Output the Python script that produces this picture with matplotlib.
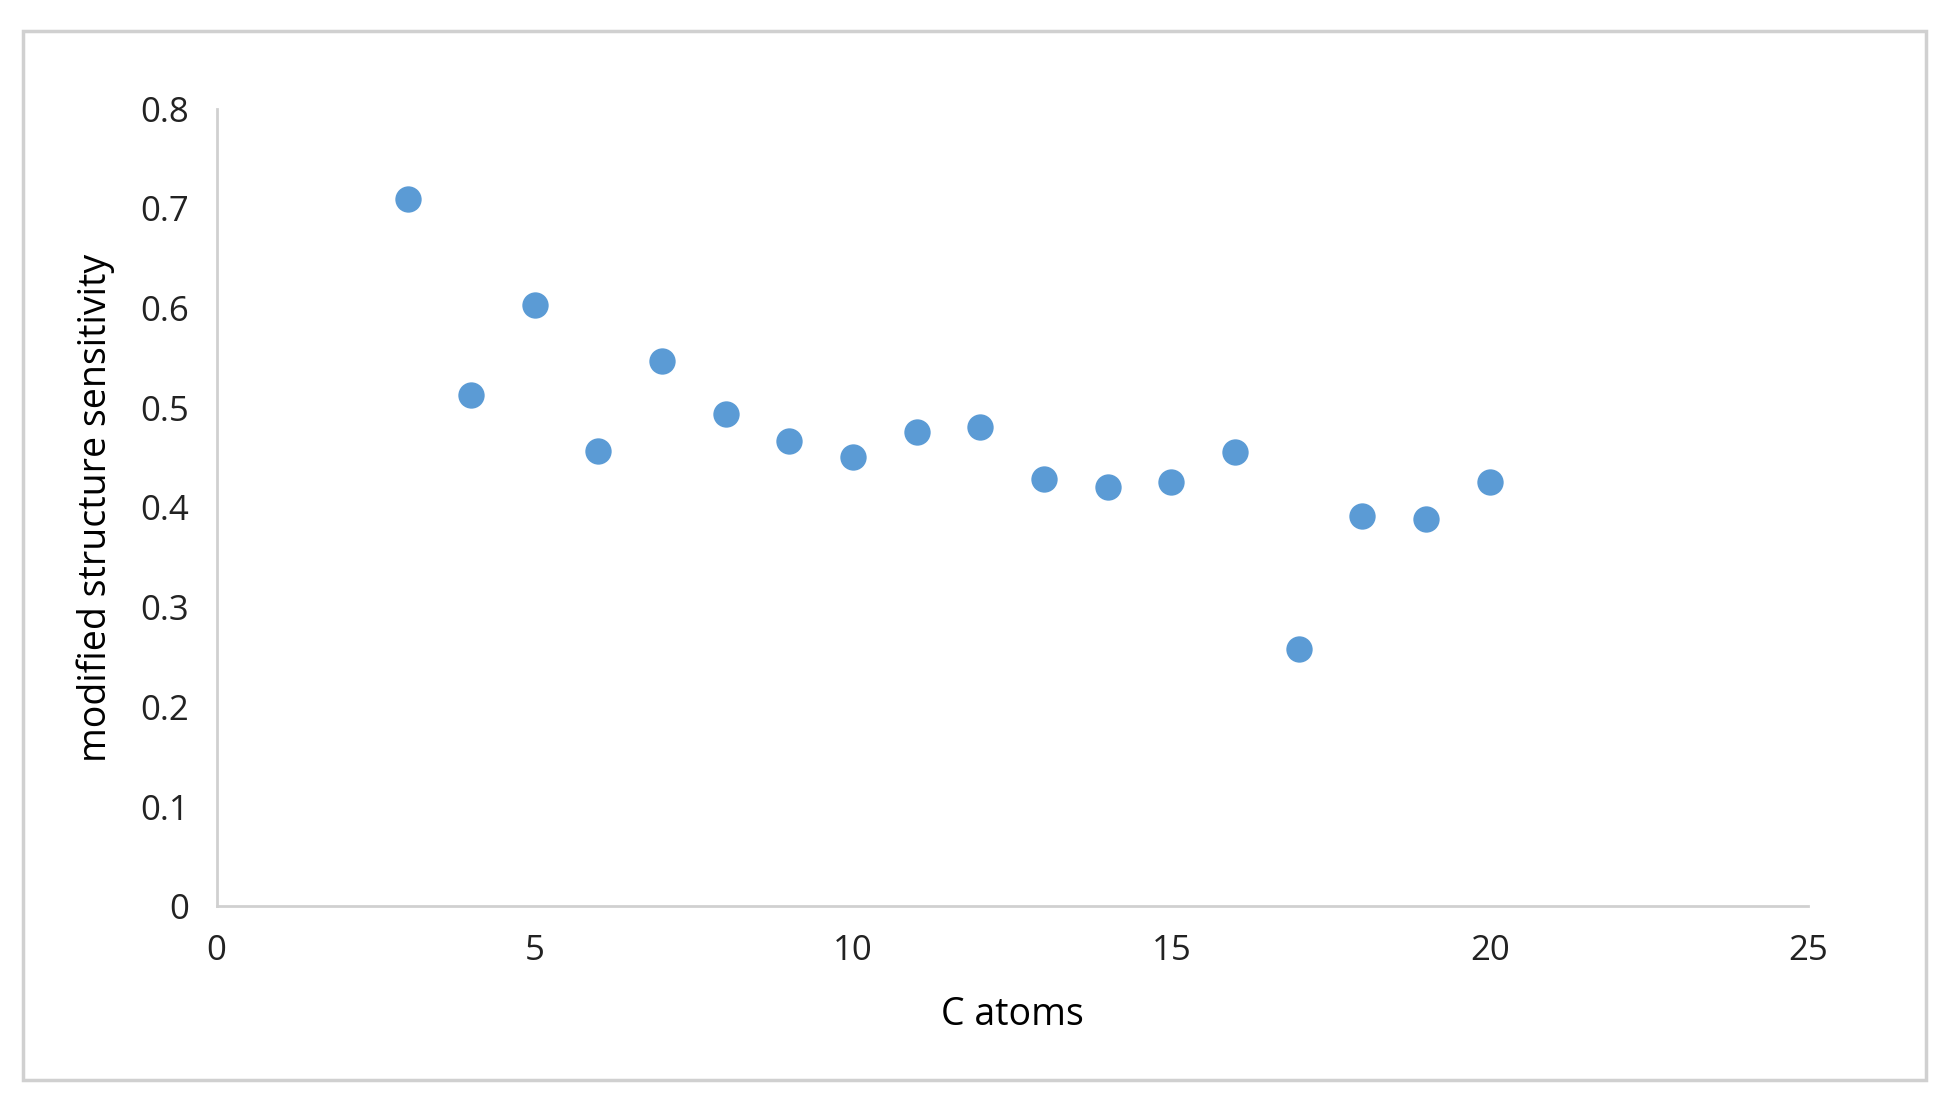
import matplotlib
matplotlib.use("Agg")
import matplotlib.pyplot as plt
from matplotlib.patches import Rectangle

c_atoms = [3, 4, 5, 6, 7, 8, 9, 10, 11, 12, 13, 14, 15, 16, 17, 18, 19, 20]
sensitivity = [0.709, 0.513, 0.603, 0.457, 0.547, 0.494, 0.467, 0.451, 0.476,
               0.481, 0.429, 0.421, 0.426, 0.456, 0.258, 0.391, 0.388, 0.426]
x_ticks = [0, 5, 10, 15, 20, 25]
y_ticks = [0, 0.1, 0.2, 0.3, 0.4, 0.5, 0.6, 0.7, 0.8]
y_labels = ["0", "0.1", "0.2", "0.3", "0.4", "0.5", "0.6", "0.7", "0.8"]

plt.rcParams['font.family'] = ['Open Sans', 'DejaVu Sans']
fig = plt.figure(figsize=(19.42, 11.19), dpi=100)
fig.patches.append(Rectangle((0.012, 0.035), 0.98, 0.937, transform=fig.transFigure,
                             fill=False, edgecolor='#d0d0d0', linewidth=2.5))
ax = fig.add_axes([0.1115, 0.19, 0.8195, 0.713])
ax.scatter(c_atoms, sensitivity, s=360, color='#5b9bd5', zorder=3, linewidths=0)
ax.set_xlim(0, 25)
ax.set_ylim(0, 0.8)
ax.set_xticks(x_ticks)
ax.set_yticks(y_ticks)
ax.set_yticklabels(y_labels)
for s in ['top', 'right']:
    ax.spines[s].set_visible(False)
for s in ['left', 'bottom']:
    ax.spines[s].set_color('#d0d0d0')
    ax.spines[s].set_linewidth(2)
ax.tick_params(length=0, labelsize=25, pad=20, colors='#222222')
ax.set_xlabel("C atoms", fontsize=27, labelpad=20)
ax.set_ylabel("modified structure sensitivity", fontsize=27, labelpad=18)
fig.savefig("out.png", dpi=100)
